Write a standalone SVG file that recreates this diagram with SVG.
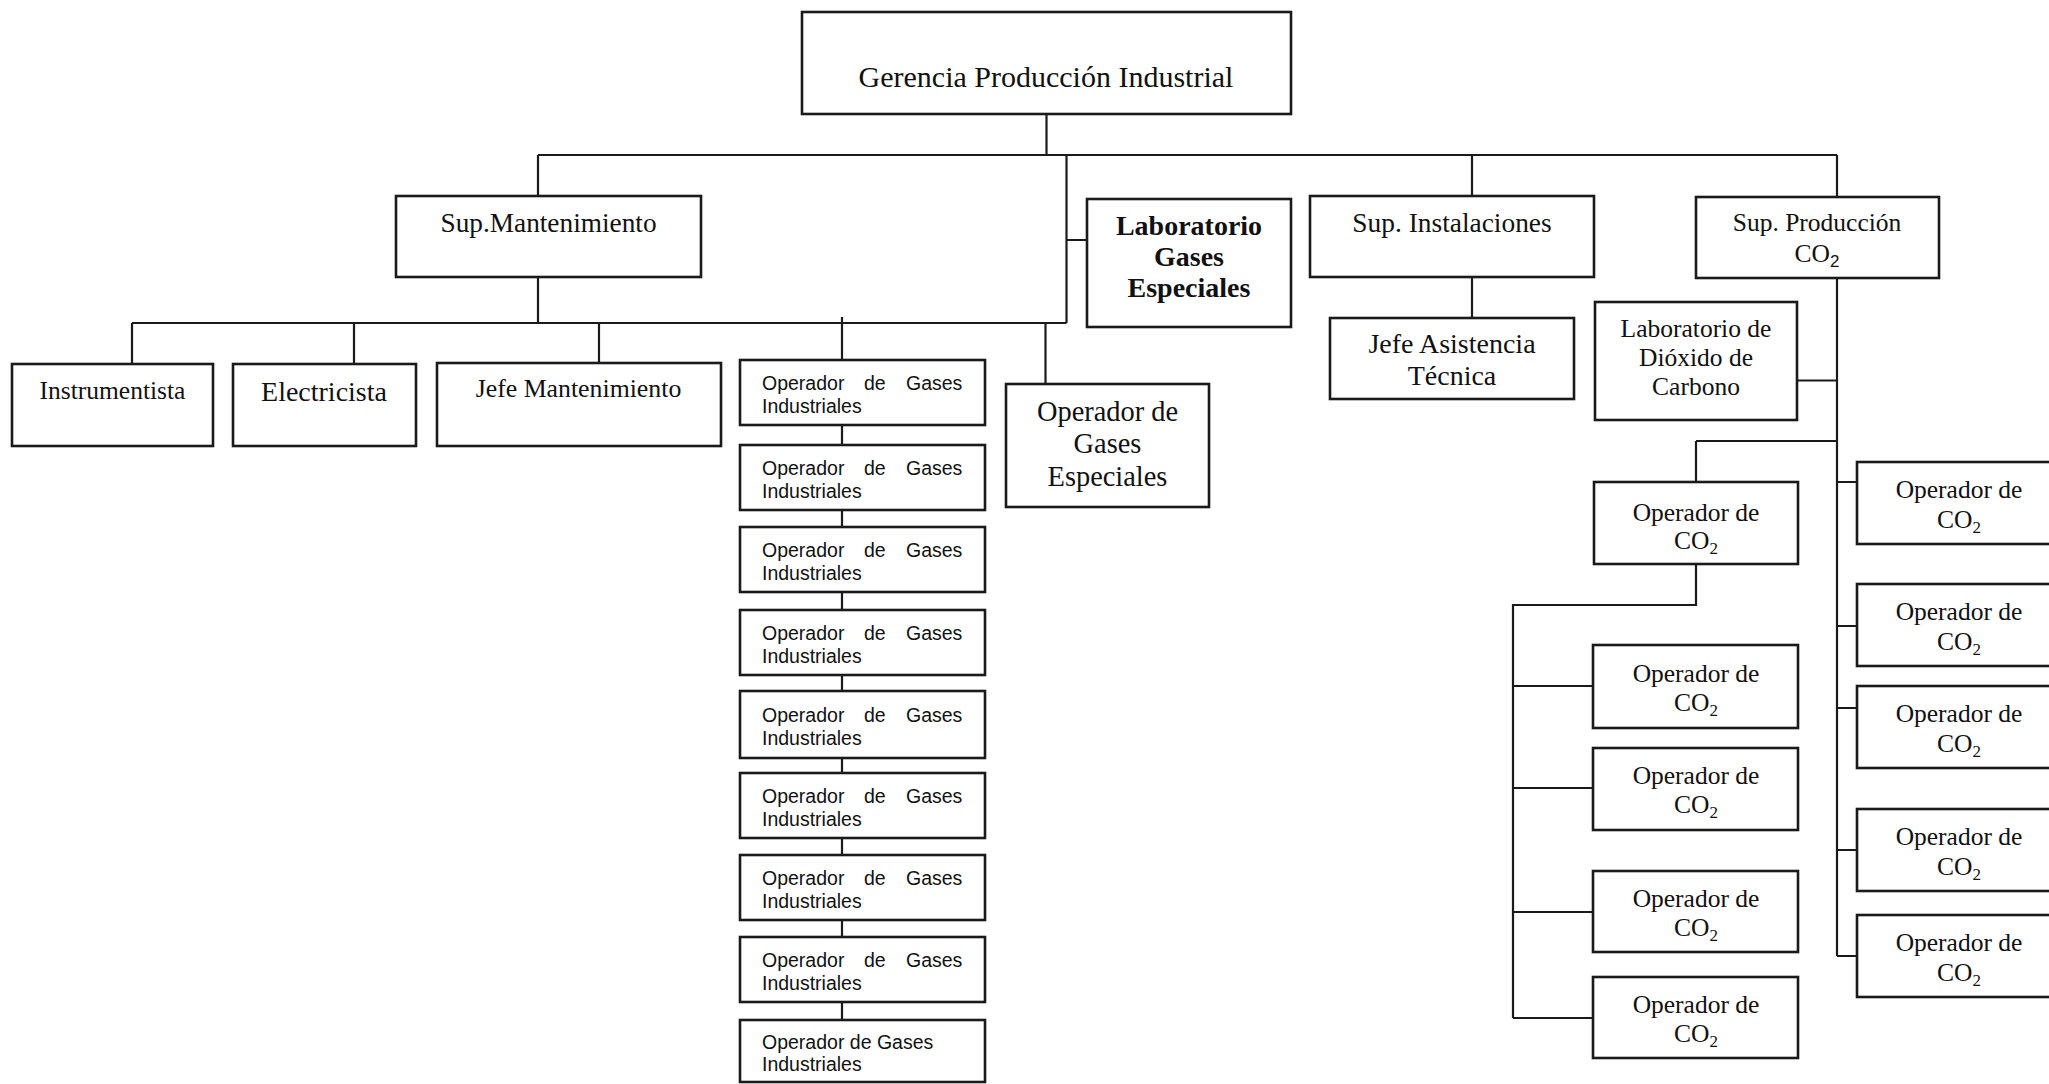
<svg xmlns="http://www.w3.org/2000/svg" width="2049" height="1084" viewBox="0 0 2049 1084">
<style>
.bg{fill:#fff}
.box{fill:#fff;stroke:#1a1a1a;stroke-width:2.6}
.ln{fill:none;stroke:#1a1a1a;stroke-width:2.2}
.s{font-family:"Liberation Serif","Times New Roman",serif;fill:#111;text-anchor:middle}
.b{font-weight:bold}
.a{font-family:"Liberation Sans",Arial,sans-serif;fill:#111;font-size:19.5px}
.sub{font-size:17px}
</style>
<rect class="bg" x="0" y="0" width="2049" height="1084"/>
<g id="connectors">
<path class="ln" d="M1046.5 114V155M538 155H1837M538 155V196M1066.5 155V323M1066.5 240H1087M1472 155V196M1837 155V197"/>
<path class="ln" d="M538 277V323M132 323H1066.5M132 323V364M354 323V364M599 323V363M842 317V1020M1045.5 323V384"/>
<path class="ln" d="M1472 277V318"/>
<path class="ln" d="M1837 278V956M1797 380.5H1837M1696 441H1837M1696 441V482M1696 564V605H1513V1018M1513 686H1593M1513 788H1593M1513 912H1593M1513 1018H1593M1837 482H1857M1837 626H1857M1837 708H1857M1837 850H1857M1837 956H1857"/>
</g>
<g id="gerencia"><rect class="box" x="802" y="12" width="489" height="102"/><text class="s" x="1046" y="87" font-size="30">Gerencia Producción Industrial</text></g>
<g id="sup-mantenimiento"><rect class="box" x="396" y="196" width="305" height="81"/><text class="s" x="548.5" y="231.7" font-size="27.3">Sup.Mantenimiento</text></g>
<g id="lab-gases-especiales"><rect class="box" x="1087" y="199" width="204" height="128"/><text class="s b" x="1189" y="235" font-size="28">Laboratorio</text><text class="s b" x="1189" y="266" font-size="28">Gases</text><text class="s b" x="1189" y="297" font-size="28">Especiales</text></g>
<g id="sup-instalaciones"><rect class="box" x="1310" y="196" width="284" height="81"/><text class="s" x="1452" y="231.7" font-size="27.4">Sup. Instalaciones</text></g>
<g id="sup-produccion"><rect class="box" x="1696" y="197" width="243" height="81"/><text class="s" x="1817" y="230.7" font-size="25.5">Sup. Producción</text><text class="s" x="1817" y="261.7" font-size="25.5">CO<tspan class="sub" dy="5" font-family="Liberation Sans,Arial,sans-serif">2</tspan></text></g>
<g id="jefe-asistencia"><rect class="box" x="1330" y="318" width="244" height="81"/><text class="s" x="1452" y="353.3" font-size="28">Jefe Asistencia</text><text class="s" x="1452" y="385" font-size="28">Técnica</text></g>
<g id="lab-dioxido"><rect class="box" x="1595" y="302" width="202" height="118"/><text class="s" x="1696" y="336.7" font-size="25.5">Laboratorio de</text><text class="s" x="1696" y="365.7" font-size="25.5">Dióxido de</text><text class="s" x="1696" y="394.7" font-size="25.5">Carbono</text></g>
<g id="instrumentista"><rect class="box" x="12" y="364" width="201" height="82"/><text class="s" x="112.5" y="399.3" font-size="25.5">Instrumentista</text></g>
<g id="electricista"><rect class="box" x="233" y="364" width="183" height="82"/><text class="s" x="324" y="400.7" font-size="28">Electricista</text></g>
<g id="jefe-mantenimiento"><rect class="box" x="437" y="363" width="284" height="83"/><text class="s" x="578.5" y="396.7" font-size="25.8">Jefe Mantenimiento</text></g>
<g id="op-gases-especiales"><rect class="box" x="1006" y="384" width="203" height="123"/><text class="s" x="1107.5" y="420.7" font-size="28.4">Operador de</text><text class="s" x="1107.5" y="453" font-size="28.4">Gases</text><text class="s" x="1107.5" y="486" font-size="28.4">Especiales</text></g>
<g id="op-gi-1"><rect class="box" x="740" y="360" width="245" height="65"/><text class="a" y="390"><tspan x="762">Operador</tspan><tspan x="864">de</tspan><tspan x="906">Gases</tspan></text><text class="a" x="762" y="412.5">Industriales</text></g>
<g id="op-gi-2"><rect class="box" x="740" y="445" width="245" height="65"/><text class="a" y="475"><tspan x="762">Operador</tspan><tspan x="864">de</tspan><tspan x="906">Gases</tspan></text><text class="a" x="762" y="497.5">Industriales</text></g>
<g id="op-gi-3"><rect class="box" x="740" y="527" width="245" height="65"/><text class="a" y="557"><tspan x="762">Operador</tspan><tspan x="864">de</tspan><tspan x="906">Gases</tspan></text><text class="a" x="762" y="579.5">Industriales</text></g>
<g id="op-gi-4"><rect class="box" x="740" y="610" width="245" height="65"/><text class="a" y="640"><tspan x="762">Operador</tspan><tspan x="864">de</tspan><tspan x="906">Gases</tspan></text><text class="a" x="762" y="662.5">Industriales</text></g>
<g id="op-gi-5"><rect class="box" x="740" y="691" width="245" height="67"/><text class="a" y="722"><tspan x="762">Operador</tspan><tspan x="864">de</tspan><tspan x="906">Gases</tspan></text><text class="a" x="762" y="744.5">Industriales</text></g>
<g id="op-gi-6"><rect class="box" x="740" y="773" width="245" height="65"/><text class="a" y="803"><tspan x="762">Operador</tspan><tspan x="864">de</tspan><tspan x="906">Gases</tspan></text><text class="a" x="762" y="825.5">Industriales</text></g>
<g id="op-gi-7"><rect class="box" x="740" y="855" width="245" height="65"/><text class="a" y="885"><tspan x="762">Operador</tspan><tspan x="864">de</tspan><tspan x="906">Gases</tspan></text><text class="a" x="762" y="907.5">Industriales</text></g>
<g id="op-gi-8"><rect class="box" x="740" y="937" width="245" height="65"/><text class="a" y="967"><tspan x="762">Operador</tspan><tspan x="864">de</tspan><tspan x="906">Gases</tspan></text><text class="a" x="762" y="989.5">Industriales</text></g>
<g id="op-gi-9"><rect class="box" x="740" y="1020" width="245" height="62"/><text class="a" x="762" y="1049">Operador de Gases</text><text class="a" x="762" y="1071">Industriales</text></g>
<g id="op-co2-a"><rect class="box" x="1594" y="482" width="204" height="82"/><text class="s" x="1696" y="521" font-size="25.5">Operador de</text><text class="s" x="1696" y="549" font-size="25.5">CO<tspan class="sub" dy="5">2</tspan></text></g>
<g id="op-co2-b"><rect class="box" x="1593" y="645" width="205" height="83"/><text class="s" x="1696" y="682" font-size="25.5">Operador de</text><text class="s" x="1696" y="711" font-size="25.5">CO<tspan class="sub" dy="5">2</tspan></text></g>
<g id="op-co2-c"><rect class="box" x="1593" y="748" width="205" height="82"/><text class="s" x="1696" y="784" font-size="25.5">Operador de</text><text class="s" x="1696" y="813" font-size="25.5">CO<tspan class="sub" dy="5">2</tspan></text></g>
<g id="op-co2-d"><rect class="box" x="1593" y="871" width="205" height="81"/><text class="s" x="1696" y="907" font-size="25.5">Operador de</text><text class="s" x="1696" y="936" font-size="25.5">CO<tspan class="sub" dy="5">2</tspan></text></g>
<g id="op-co2-e"><rect class="box" x="1593" y="977" width="205" height="81"/><text class="s" x="1696" y="1013" font-size="25.5">Operador de</text><text class="s" x="1696" y="1042" font-size="25.5">CO<tspan class="sub" dy="5">2</tspan></text></g>
<g id="op-co2-r1"><rect class="box" x="1857" y="462" width="204" height="82"/><text class="s" x="1959" y="498" font-size="25.5">Operador de</text><text class="s" x="1959" y="528" font-size="25.5">CO<tspan class="sub" dy="5">2</tspan></text></g>
<g id="op-co2-r2"><rect class="box" x="1857" y="584" width="204" height="82"/><text class="s" x="1959" y="620" font-size="25.5">Operador de</text><text class="s" x="1959" y="650" font-size="25.5">CO<tspan class="sub" dy="5">2</tspan></text></g>
<g id="op-co2-r3"><rect class="box" x="1857" y="686" width="204" height="82"/><text class="s" x="1959" y="722" font-size="25.5">Operador de</text><text class="s" x="1959" y="752" font-size="25.5">CO<tspan class="sub" dy="5">2</tspan></text></g>
<g id="op-co2-r4"><rect class="box" x="1857" y="809" width="204" height="82"/><text class="s" x="1959" y="845" font-size="25.5">Operador de</text><text class="s" x="1959" y="875" font-size="25.5">CO<tspan class="sub" dy="5">2</tspan></text></g>
<g id="op-co2-r5"><rect class="box" x="1857" y="915" width="204" height="82"/><text class="s" x="1959" y="951" font-size="25.5">Operador de</text><text class="s" x="1959" y="981" font-size="25.5">CO<tspan class="sub" dy="5">2</tspan></text></g>
</svg>
